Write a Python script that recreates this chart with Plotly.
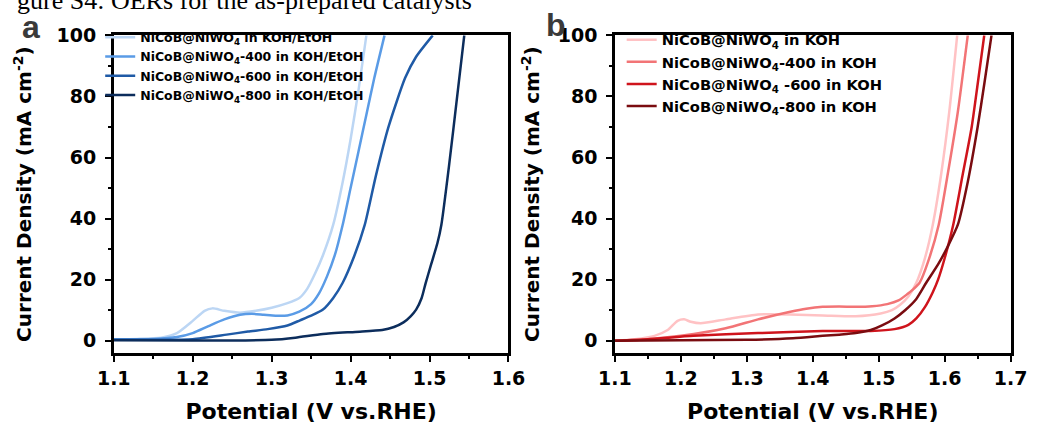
import plotly.graph_objects as go

# ---------------- data ----------------
# Panel a (KOH/EtOH)
a1_x = [1.10, 1.13, 1.16, 1.18, 1.20, 1.215, 1.225, 1.24, 1.26, 1.28, 1.30, 1.32, 1.335, 1.345, 1.355, 1.365, 1.378, 1.39, 1.40, 1.41, 1.42]
a1_y = [0.5, 0.6, 1.0, 2.5, 6.5, 9.8, 10.6, 9.8, 9.2, 9.8, 10.8, 12.3, 14, 17, 22, 28, 38, 52, 66, 82, 100]

a2_x = [1.10, 1.15, 1.18, 1.20, 1.22, 1.24, 1.26, 1.275, 1.29, 1.305, 1.32, 1.335, 1.35, 1.36, 1.37, 1.38, 1.39, 1.40, 1.41, 1.42, 1.43, 1.443]
a2_y = [0.5, 0.6, 1.2, 2.5, 4.8, 7, 8.5, 8.8, 8.5, 8.2, 8.3, 9.5, 12, 15.5, 21, 28, 38, 50, 62, 74, 86, 100]

a3_x = [1.10, 1.15, 1.20, 1.243, 1.27, 1.295, 1.32, 1.336, 1.35, 1.365, 1.378, 1.39, 1.405, 1.418, 1.432, 1.448, 1.469, 1.483, 1.504]
a3_y = [0.3, 0.3, 0.5, 2, 3, 3.8, 5, 6.7, 8.2, 10.2, 14, 19, 28, 38, 54, 70, 86, 93, 100]

a4_x = [1.10, 1.20, 1.25, 1.30, 1.33, 1.365, 1.406, 1.44, 1.455, 1.467, 1.476, 1.483, 1.49, 1.495, 1.502, 1.51, 1.515, 1.525, 1.535, 1.544]
a4_y = [0.2, 0.1, 0.1, 0.3, 1, 2.2, 2.9, 3.5, 4.5, 6, 8, 10.2, 14, 18.8, 25, 32, 38, 58, 80, 100]

# Panel b (KOH)
b1_x = [1.10, 1.13, 1.16, 1.18, 1.195, 1.205, 1.215, 1.23, 1.268, 1.317, 1.366, 1.415, 1.465, 1.503, 1.52, 1.532, 1.545, 1.557, 1.57, 1.582, 1.595, 1.607, 1.619]
b1_y = [0, 0.5, 1.6, 3.5, 6.5, 7, 6.2, 5.7, 7, 8.6, 8.6, 8.3, 8, 8.9, 10, 11.7, 14.5, 19, 27, 38, 55, 75, 100]

b2_x = [1.10, 1.15, 1.20, 1.268, 1.317, 1.366, 1.39, 1.415, 1.44, 1.465, 1.49, 1.513, 1.53, 1.543, 1.553, 1.562, 1.575, 1.591, 1.605, 1.62, 1.635]
b2_y = [0, 0.5, 1.6, 4.1, 7, 9.5, 10.5, 11.1, 11.2, 11.1, 11.3, 12, 13.2, 15.2, 17, 19, 26, 38, 55, 75, 100]

b3_x = [1.10, 1.15, 1.219, 1.317, 1.415, 1.488, 1.524, 1.545, 1.557, 1.57, 1.582, 1.59, 1.60, 1.613, 1.627, 1.641, 1.65, 1.66]
b3_y = [0, 0.5, 1.6, 2.5, 3.2, 3.2, 3.8, 5.2, 7.3, 11, 15.9, 20, 27, 38, 54, 70, 84, 100]

b4_x = [1.10, 1.20, 1.30, 1.37, 1.415, 1.44, 1.465, 1.488, 1.505, 1.524, 1.54, 1.557, 1.572, 1.59, 1.605, 1.62, 1.635, 1.65, 1.66, 1.671]
b4_y = [0, 0.2, 0.3, 0.8, 1.6, 2, 2.5, 3.5, 5, 7.3, 10, 13.7, 19, 25, 31, 38, 52, 70, 84, 100]

a_names = ["NiCoB@NiWO<sub>4</sub> in KOH/EtOH",
           "NiCoB@NiWO<sub>4</sub>-400 in KOH/EtOH",
           "NiCoB@NiWO<sub>4</sub>-600 in KOH/EtOH",
           "NiCoB@NiWO<sub>4</sub>-800 in KOH/EtOH"]
b_names = ["NiCoB@NiWO<sub>4</sub> in KOH",
           "NiCoB@NiWO<sub>4</sub>-400 in KOH",
           "NiCoB@NiWO<sub>4</sub> -600 in KOH",
           "NiCoB@NiWO<sub>4</sub>-800 in KOH"]
a_colors = ["#bcd6f4", "#5a9be6", "#1f5aa6", "#0c2d5c"]
b_colors = ["#ffc2c4", "#f27476", "#cf141c", "#7a0c10"]

x_ticks_a = [1.1, 1.2, 1.3, 1.4, 1.5, 1.6]
x_ticks_b = [1.1, 1.2, 1.3, 1.4, 1.5, 1.6, 1.7]
y_ticks = [0, 20, 40, 60, 80, 100]

caption = "gure S4: OERs for the as-prepared catalysts"

# ---------------- figure ----------------
W, H = 1046, 427
fig = go.Figure()

a_data = [(a1_x, a1_y), (a2_x, a2_y), (a3_x, a3_y), (a4_x, a4_y)]
b_data = [(b1_x, b1_y), (b2_x, b2_y), (b3_x, b3_y), (b4_x, b4_y)]

for (xs, ys), nm, c in zip(a_data, a_names, a_colors):
    fig.add_trace(go.Scatter(x=xs, y=ys, name=nm, mode="lines",
                             line=dict(color=c, width=2.5, shape="spline", smoothing=0.6),
                             xaxis="x", yaxis="y", legend="legend"))
for (xs, ys), nm, c in zip(b_data, b_names, b_colors):
    fig.add_trace(go.Scatter(x=xs, y=ys, name=nm, mode="lines",
                             line=dict(color=c, width=2.5, shape="spline", smoothing=0.6),
                             xaxis="x2", yaxis="y2", legend="legend2"))

FONT = "DejaVu Sans, Arial, sans-serif"
tickfont = dict(family=FONT, size=19, color="black", weight="bold")
xtitlefont = dict(family=FONT, size=22, color="black", weight="bold")
ytitlefont = dict(family=FONT, size=20, color="black", weight="bold")

def xaxis(dom, rng, ticks, anchor):
    return dict(domain=dom, range=rng, anchor=anchor, tickvals=ticks,
                ticktext=[f"{t:.1f}" for t in ticks],
                showline=True, linecolor="black", linewidth=2.5, mirror=True,
                ticks="outside", ticklen=6, tickwidth=2, tickcolor="black",
                minor=dict(ticks="outside", ticklen=3, tickwidth=2, tickcolor="black", dtick=0.05, tick0=1.1),
                showgrid=False, zeroline=False, tickfont=tickfont,
                title=dict(text="Potential (V vs.RHE)", font=xtitlefont, standoff=17))

def yaxis(dom, anchor, standoff):
    return dict(domain=dom, range=[-4, 100], anchor=anchor, tickvals=y_ticks,
                showline=True, linecolor="black", linewidth=2.5, mirror=True,
                ticks="outside", ticklen=6, tickwidth=2, tickcolor="black",
                ticklabelstandoff=5,
                minor=dict(ticks="outside", ticklen=3, tickwidth=2, tickcolor="black", dtick=10, tick0=0),
                showgrid=False, zeroline=False, tickfont=tickfont,
                title=dict(text="Current Density (mA cm<sup>-2</sup>)", font=ytitlefont, standoff=standoff))

ydom = [1 - 351 / H, 1 - 25 / H]
fig.update_layout(
    width=W, height=H, margin=dict(l=0, r=0, t=0, b=0),
    paper_bgcolor="white", plot_bgcolor="white",
    # caption of the source page, cut off at the top edge
    title=dict(text=caption, x=0, xanchor="left", xref="paper",
               y=1, yanchor="middle", yref="container",
               pad=dict(t=0, b=0, l=0, r=0),
               font=dict(family="Liberation Serif, serif", size=26, color="black")),
    xaxis=xaxis([100 / W, 508 / W], [1.1, 1.6], x_ticks_a, "y"),
    yaxis=yaxis(ydom, "x", 20),
    xaxis2=xaxis([618 / W, 1027 / W], [1.1, 1.7], x_ticks_b, "y2"),
    yaxis2=yaxis(ydom, "x2", 13),
    legend=dict(x=86 / W, y=1 - 12 / H, xanchor="left", yanchor="top",
                bgcolor="rgba(0,0,0,0)", borderwidth=0,
                font=dict(family=FONT, size=12.5, color="black", weight="bold"),
                tracegroupgap=0),
    legend2=dict(x=625 / W, y=1 - 13 / H, xanchor="left", yanchor="top",
                 bgcolor="rgba(0,0,0,0)", borderwidth=0,
                 font=dict(family=FONT, size=14.7, color="black", weight="bold"),
                 tracegroupgap=0),
    annotations=[
        dict(text="a", x=14 / W, y=1 - 16 / H, xref="paper", yref="paper",
             showarrow=False, xanchor="center", yanchor="middle",
             font=dict(family="Liberation Sans, Arial, sans-serif", size=32, color="#3a3a3a", weight="bold")),
        dict(text="b", x=557 / W, y=1 - 14 / H, xref="paper", yref="paper",
             showarrow=False, xanchor="center", yanchor="middle",
             font=dict(family="Liberation Sans, Arial, sans-serif", size=32, color="#3a3a3a", weight="bold")),
    ],
)

fig.write_html("out.html")
